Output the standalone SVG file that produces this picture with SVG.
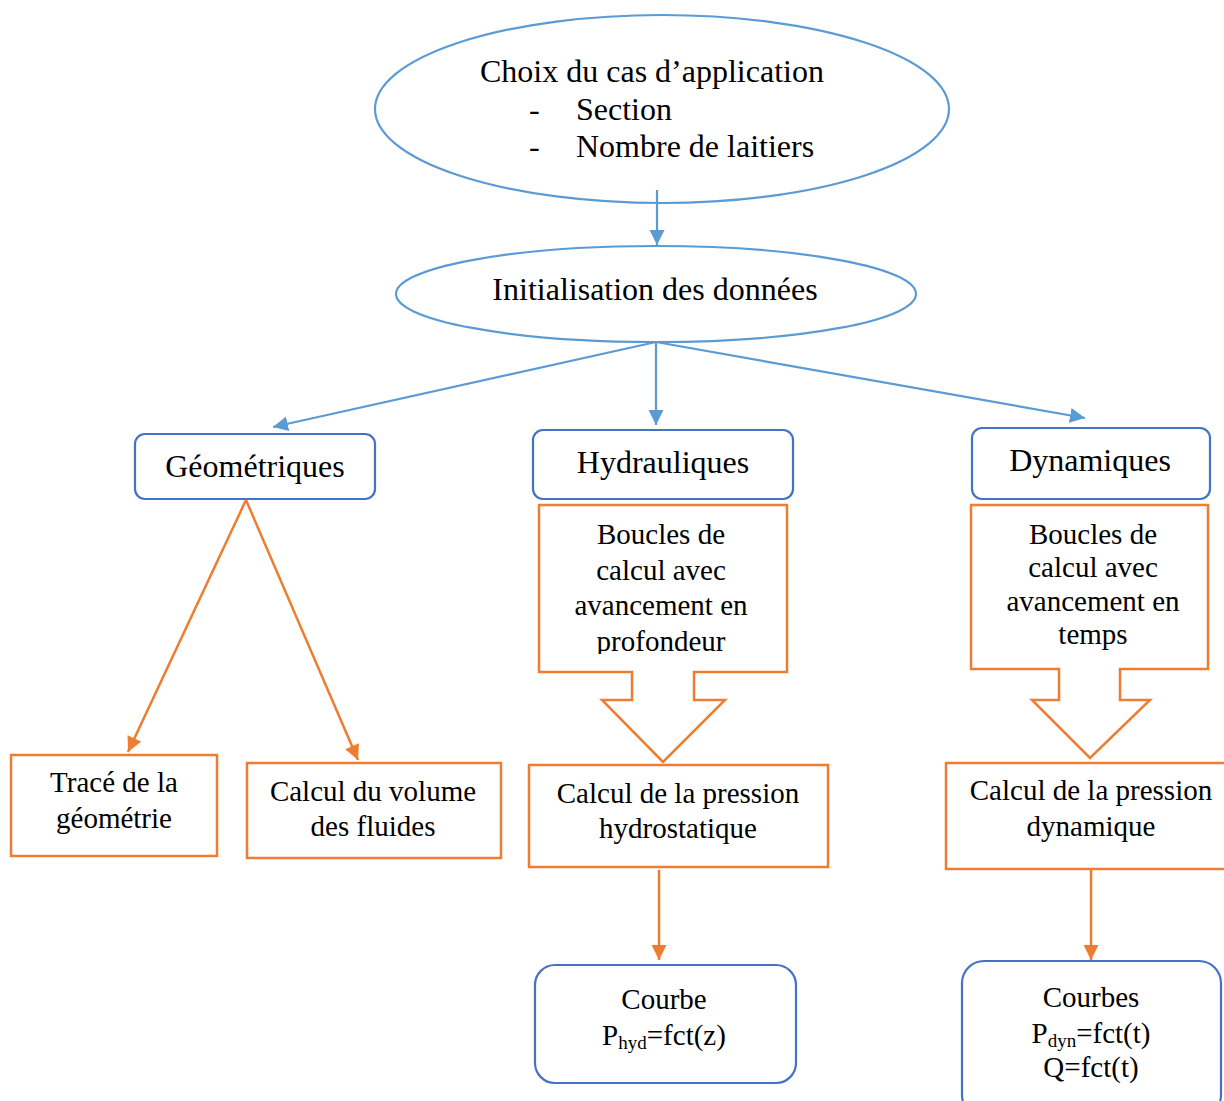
<svg xmlns="http://www.w3.org/2000/svg" width="1224" height="1101" viewBox="0 0 1224 1101">
<style>
text{font-family:"Liberation Serif","Times New Roman",serif;fill:#000;}
.h{font-size:32px;}
.b{font-size:29px;}
.c{text-anchor:middle;}
.ell{fill:#fff;stroke:#5B9BD5;stroke-width:2.2;}
.rr{fill:#fff;stroke:#4472C4;stroke-width:2.2;}
.or{fill:#fff;stroke:#ED7D31;stroke-width:2.5;}
.cb{stroke:#5B9BD5;stroke-width:2.2;fill:none;}
.co{stroke:#ED7D31;stroke-width:2.5;fill:none;}
.sub{font-size:19px;}
</style>
<defs>
<marker id="ab" viewBox="0 0 10 10" refX="10" refY="5" markerWidth="15" markerHeight="16" markerUnits="userSpaceOnUse" orient="auto"><path d="M0,0 L10,5 L0,10 z" fill="#5B9BD5"/></marker>
<marker id="ao" viewBox="0 0 10 10" refX="10" refY="5" markerWidth="16" markerHeight="15" markerUnits="userSpaceOnUse" orient="auto"><path d="M0,0 L10,5 L0,10 z" fill="#ED7D31"/></marker>
<clipPath id="clipH"><rect x="539" y="505" width="248" height="149"/></clipPath>
</defs>

<g id="n-choix">
<ellipse class="ell" cx="662" cy="109" rx="287" ry="94"/>
<text class="h" x="480" y="82">Choix du cas d’application</text>
<text class="h" x="529" y="120">-</text>
<text class="h" x="576" y="120">Section</text>
<text class="h" x="529" y="157">-</text>
<text class="h" x="576" y="157">Nombre de laitiers</text>
</g>

<g id="n-init">
<ellipse class="ell" cx="656" cy="294" rx="260" ry="48"/>
<text class="h c" x="655" y="300">Initialisation des données</text>
</g>

<g id="n-geo">
<rect class="rr" x="135" y="434" width="240" height="65" rx="10"/>
<text class="h c" x="255" y="477">Géométriques</text>
</g>

<g id="n-hyd">
<rect class="rr" x="533" y="430" width="260" height="69" rx="10"/>
<text class="h c" x="663" y="473">Hydrauliques</text>
</g>

<g id="n-dyn">
<rect class="rr" x="972" y="428" width="238" height="71" rx="10"/>
<text class="h c" x="1090" y="471">Dynamiques</text>
</g>

<g id="n-boucles-hyd">
<path class="or" d="M539,505 H787 V672 H694 V700 H725 L663,762 L602,700 H632 V672 H539 Z"/>
<g clip-path="url(#clipH)">
<text class="b c" x="661" y="544">Boucles de</text>
<text class="b c" x="661" y="580">calcul avec</text>
<text class="b c" x="661" y="615">avancement en</text>
<text class="b c" x="661" y="651">profondeur</text>
</g>
</g>

<g id="n-boucles-dyn">
<path class="or" d="M971,505 H1208 V669 H1120 V700 H1150 L1090,758 L1032,700 H1059 V669 H971 Z"/>
<text class="b c" x="1093" y="544">Boucles de</text>
<text class="b c" x="1093" y="577">calcul avec</text>
<text class="b c" x="1093" y="611">avancement en</text>
<text class="b c" x="1093" y="644">temps</text>
</g>

<g id="n-trace">
<rect class="or" x="11" y="755" width="206" height="101"/>
<text class="b c" x="114" y="792">Tracé de la</text>
<text class="b c" x="114" y="828">géométrie</text>
</g>

<g id="n-volume">
<rect class="or" x="247" y="763" width="254" height="95"/>
<text class="b c" x="373" y="801">Calcul du volume</text>
<text class="b c" x="373" y="836">des fluides</text>
</g>

<g id="n-p-hyd">
<rect class="or" x="529" y="765" width="299" height="102"/>
<text class="b c" x="678" y="803">Calcul de la pression</text>
<text class="b c" x="678" y="838">hydrostatique</text>
</g>

<g id="n-p-dyn">
<rect class="or" x="946" y="763" width="290" height="106"/>
<text class="b c" x="1091" y="800">Calcul de la pression</text>
<text class="b c" x="1091" y="836">dynamique</text>
</g>

<g id="n-courbe">
<rect class="rr" x="535" y="965" width="261" height="118" rx="20"/>
<text class="b c" x="664" y="1009">Courbe</text>
<text class="b c" x="664" y="1045">P<tspan class="sub" dy="4">hyd</tspan><tspan dy="-4">=fct(z)</tspan></text>
</g>

<g id="n-courbes">
<rect class="rr" x="962" y="961" width="259" height="156" rx="22"/>
<text class="b c" x="1091" y="1007">Courbes</text>
<text class="b c" x="1091" y="1043">P<tspan class="sub" dy="4">dyn</tspan><tspan dy="-4">=fct(t)</tspan></text>
<text class="b c" x="1091" y="1077">Q=fct(t)</text>
</g>

<g id="connectors">
<line class="cb" x1="657" y1="190" x2="657" y2="245" marker-end="url(#ab)"/>
<line class="cb" x1="656" y1="342" x2="656" y2="425" marker-end="url(#ab)"/>
<line class="cb" x1="656" y1="342" x2="273" y2="427" marker-end="url(#ab)"/>
<line class="cb" x1="656" y1="342" x2="1085" y2="418" marker-end="url(#ab)"/>
<line class="co" x1="246" y1="500" x2="128" y2="752" marker-end="url(#ao)"/>
<line class="co" x1="246" y1="500" x2="358" y2="760" marker-end="url(#ao)"/>
<line class="co" x1="659" y1="870" x2="659" y2="960" marker-end="url(#ao)"/>
<line class="co" x1="1091" y1="869" x2="1091" y2="960" marker-end="url(#ao)"/>
</g>
</svg>
